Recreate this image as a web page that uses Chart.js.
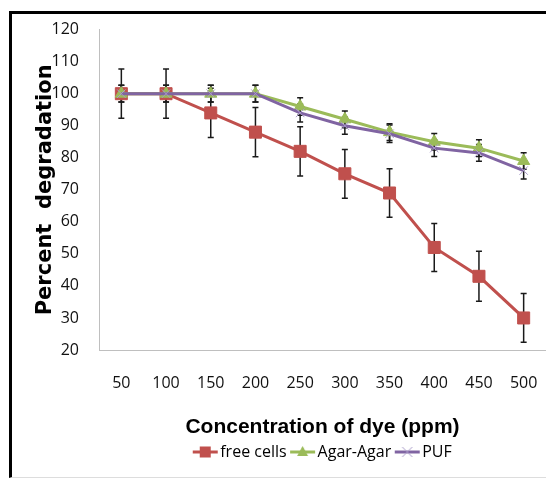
<!DOCTYPE html>
<html>
<head>
<meta charset="utf-8">
<script src="https://cdn.jsdelivr.net/npm/chart.js@4.4.1/dist/chart.umd.min.js"></script>
<style>
  html, body { margin: 0; padding: 0; background: #fff; }
  #wrap { position: relative; width: 546px; height: 479px; overflow: hidden; }
  #frame { position: absolute; left: 9px; top: 11px; width: 560px; height: 463px;
           border-left: 3px solid #000; border-top: 3px solid #000; border-bottom: 1px solid #ddd; }
  canvas { position: absolute; left: 0; top: 0; }
</style>
</head>
<body>
<div id="wrap">
  <div id="frame"></div>
  <canvas id="myChart" width="546" height="479"></canvas>
</div>
<script>
// concentration of dye (ppm)
const labels = ['50', '100', '150', '200', '250', '300', '350', '400', '450', '500'];

// percent degradation
const freeCells = [100, 100, 94, 88, 82, 75, 69, 52, 43, 30];
const agarAgar  = [100, 100, 100, 100, 96, 92, 88, 85, 83, 79];
const puf       = [100, 100, 100, 100, 94, 90, 87.5, 83, 81.5, 76];

// error bar half widths
const freeCellsErr = [7.7, 7.7, 7.7, 7.7, 7.7, 7.6, 7.6, 7.5, 7.8, 7.6];
const agarAgarErr  = [2.6, 2.6, 2.6, 2.6, 2.7, 2.6, 2.6, 2.6, 2.6, 2.6];
const pufErr       = [2.6, 2.6, 2.6, 2.6, 2.8, 2.7, 2.7, 2.6, 2.6, 2.6];

const yMin = 20, yMax = 120, yStep = 10;

const allErr = [freeCellsErr, agarAgarErr, pufErr];

// whiskers, drawn under the markers
const errorBars = {
  id: 'errorBars',
  beforeDatasetsDraw(chart) {
    const ctx = chart.ctx;
    const y = chart.scales.y;
    ctx.save();
    ctx.strokeStyle = '#1a1a1a';
    ctx.lineWidth = 1.5;
    chart.data.datasets.forEach((ds, i) => {
      const meta = chart.getDatasetMeta(i);
      meta.data.forEach((pt, j) => {
        const e = allErr[i][j];
        const top = y.getPixelForValue(ds.data[j] + e);
        const bot = y.getPixelForValue(ds.data[j] - e);
        ctx.beginPath();
        ctx.moveTo(pt.x, top); ctx.lineTo(pt.x, bot);
        ctx.moveTo(pt.x - 3, top); ctx.lineTo(pt.x + 3, top);
        ctx.moveTo(pt.x - 3, bot); ctx.lineTo(pt.x + 3, bot);
        ctx.stroke();
      });
    });
    ctx.restore();
  }
};

// line + marker icon for the legend
function legendIcon(color, marker, markColor) {
  const c = document.createElement('canvas');
  c.width = 32; c.height = 16;
  const g = c.getContext('2d');
  g.strokeStyle = color;
  g.lineWidth = 3;
  g.beginPath(); g.moveTo(6, 8); g.lineTo(31, 8); g.stroke();
  const cx = 18.5, cy = 8;
  g.fillStyle = markColor;
  g.strokeStyle = markColor;
  if (marker == 'rect') {
    g.fillRect(cx - 5.5, cy - 5.5, 11, 11);
  } else if (marker == 'triangle') {
    g.beginPath();
    g.moveTo(cx, cy - 6); g.lineTo(cx + 5.5, cy + 4); g.lineTo(cx - 5.5, cy + 4);
    g.closePath(); g.fill();
  } else {
    g.lineWidth = 1;
    g.beginPath();
    g.moveTo(cx - 5, cy - 5); g.lineTo(cx + 5, cy + 5);
    g.moveTo(cx + 5, cy - 5); g.lineTo(cx - 5, cy + 5);
    g.stroke();
  }
  return c;
}

const icons = [
  legendIcon('#c0504d', 'rect', '#c0504d'),
  legendIcon('#9bbb59', 'triangle', '#9bbb59'),
  legendIcon('#8064a2', 'cross', '#a99bc9')
];

const tickFont = { family: 'Open Sans', size: 16 };

const ctx = document.getElementById('myChart');
new Chart(ctx, {
  type: 'line',
  data: {
    labels,
    datasets: [
      {
        label: 'free cells', data: freeCells,
        borderColor: '#c0504d', backgroundColor: '#c0504d', borderWidth: 3,
        pointStyle: 'rect', pointRadius: 8.5, pointBorderWidth: 1, order: 3
      },
      {
        label: 'Agar-Agar', data: agarAgar,
        borderColor: '#9bbb59', backgroundColor: '#9bbb59', borderWidth: 3,
        pointStyle: 'triangle', pointRadius: 7, pointBorderWidth: 1, order: 2
      },
      {
        label: 'PUF', data: puf,
        borderColor: '#8064a2', backgroundColor: '#8064a2', borderWidth: 3,
        pointStyle: 'crossRot', pointRadius: 6, pointBorderWidth: 1,
        pointBorderColor: '#a99bc9', order: 1
      }
    ]
  },
  options: {
    responsive: false,
    animation: false,
    layout: { autoPadding: false, padding: { left: 10, top: 27, right: 0, bottom: 9 } },
    plugins: {
      tooltip: { enabled: false },
      legend: {
        position: 'bottom',
        fullSize: false,
        labels: {
          usePointStyle: true,
          pointStyleWidth: 19,
          padding: 4,
          color: '#000',
          font: { family: 'Open Sans', size: 16 },
          generateLabels(chart) {
            return chart.data.datasets.map((ds, i) => ({
              text: ds.label,
              pointStyle: icons[i],
              fillStyle: ds.borderColor,
              strokeStyle: ds.borderColor,
              lineWidth: 0,
              datasetIndex: i,
              hidden: false
            }));
          }
        }
      }
    },
    scales: {
      x: {
        offset: true,
        grid: { display: false, drawTicks: false },
        border: { color: '#bfbfbf', width: 1 },
        ticks: { padding: 24, color: '#111', font: tickFont },
        title: {
          display: true,
          text: 'Concentration of dye (ppm)',
          color: '#000',
          font: { family: 'Liberation Sans', weight: 'bold', size: 21 },
          padding: { top: 0, bottom: 0 }
        },
        afterFit(s) {
          s.height = 90;
          s.paddingLeft = 0;
          s.paddingRight = 0;
        }
      },
      y: {
        min: yMin,
        max: yMax,
        grid: { display: false, drawTicks: false },
        border: { color: '#bfbfbf', width: 1 },
        ticks: { stepSize: yStep, padding: 20, color: '#111', font: tickFont },
        title: {
          display: true,
          text: 'Percent  degradation',
          color: '#000',
          font: { family: 'DejaVu Sans', weight: 'bold', size: 21 },
          padding: { top: 23, bottom: 0 }
        },
        afterFit(s) { s.width = 89; }
      }
    }
  },
  plugins: [errorBars]
});
</script>
</body>
</html>
